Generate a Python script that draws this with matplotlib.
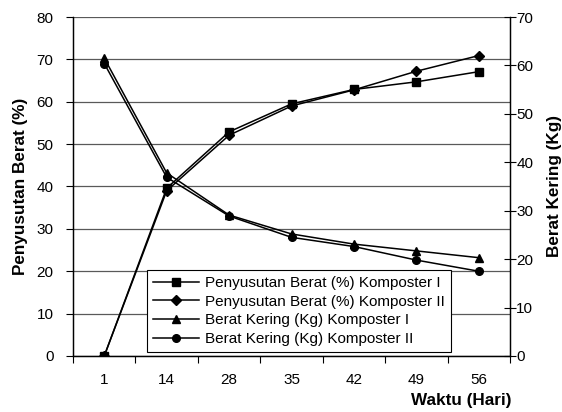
import numpy as np
import matplotlib
matplotlib.use('Agg')
import matplotlib.pyplot as plt

plt.rcParams['font.family'] = ['Liberation Sans', 'DejaVu Sans']
plt.rcParams['font.size'] = 11

hari = ['1', '14', '28', '35', '42', '49', '56']
susut_1 = [0, 39.6, 52.9, 59.5, 62.9, 64.7, 67.1]
susut_2 = [0, 39.0, 52.1, 59.0, 62.8, 67.2, 70.9]
kering_1 = [61.5, 37.8, 29.1, 25.2, 23.1, 21.7, 20.3]
kering_2 = [60.4, 36.9, 28.9, 24.5, 22.6, 19.8, 17.5]

labels = ['Penyusutan Berat (%) Komposter I',
          'Penyusutan Berat (%) Komposter II',
          'Berat Kering (Kg) Komposter I',
          'Berat Kering (Kg) Komposter II']

fig = plt.figure(figsize=(5.62, 4.12), dpi=100)
ax = fig.add_axes([0.130, 0.136, 0.7775, 0.8227])
ax2 = ax.twinx()

x = np.arange(len(hari))
kw = dict(color='black', lw=1.1, mfc='black', mec='black')
l1, = ax.plot(x, susut_1, marker='s', ms=5.5, **kw)
l2, = ax.plot(x, susut_2, marker='D', ms=5, **kw)
l3, = ax2.plot(x, kering_1, marker='^', ms=6, **kw)
l4, = ax2.plot(x, kering_2, marker='o', ms=5.5, **kw)

ax.set_ylim(0, 80)
ax.set_yticks(range(0, 81, 10))
ax2.set_ylim(0, 70)
ax2.set_yticks(range(0, 71, 10))
ax.set_xlim(-0.5, len(hari) - 0.5)
ax.set_xticks(np.arange(-0.5, len(hari), 1))
ax.set_xticklabels([])
ax.set_xticks(x, minor=True)
ax.set_xticklabels(hari, minor=True)
ax.tick_params(axis='x', which='major', direction='out', length=5, width=0.8)
ax.tick_params(axis='x', which='minor', length=0, pad=12)
ax.tick_params(axis='y', direction='out', length=5, width=0.8, pad=9)
ax2.tick_params(axis='y', direction='inout', length=8, width=0.8, pad=0.5)

ax.yaxis.grid(True, color='0.35', lw=0.9)
ax.set_axisbelow(True)
for a in (ax, ax2):
    a.spines['top'].set_visible(False)
    a.spines['left'].set_linewidth(0.9)
    a.spines['bottom'].set_linewidth(0.9)
    a.spines['right'].set_linewidth(0.9)

ax.set_ylabel('Penyusutan Berat (%)', fontweight='bold', fontsize=12.3, labelpad=6)
ax2.set_ylabel('Berat Kering (Kg)', fontweight='bold', fontsize=12.3, labelpad=10)
fig.text(0.911, 0.028, 'Waktu (Hari)', ha='right', va='center',
         fontweight='bold', fontsize=12.3)

leg = ax2.legend([l1, l2, l3, l4], labels, loc='lower left',
                 bbox_to_anchor=(0.2616, 0.1456), bbox_transform=fig.transFigure,
                 borderaxespad=0, fancybox=False, framealpha=1,
                 edgecolor='black', handlelength=3.0, labelspacing=0.3,
                 borderpad=0.4, handletextpad=0.4, fontsize=11)
leg.get_frame().set_linewidth(0.8)

fig.savefig('out.png', dpi=100)
